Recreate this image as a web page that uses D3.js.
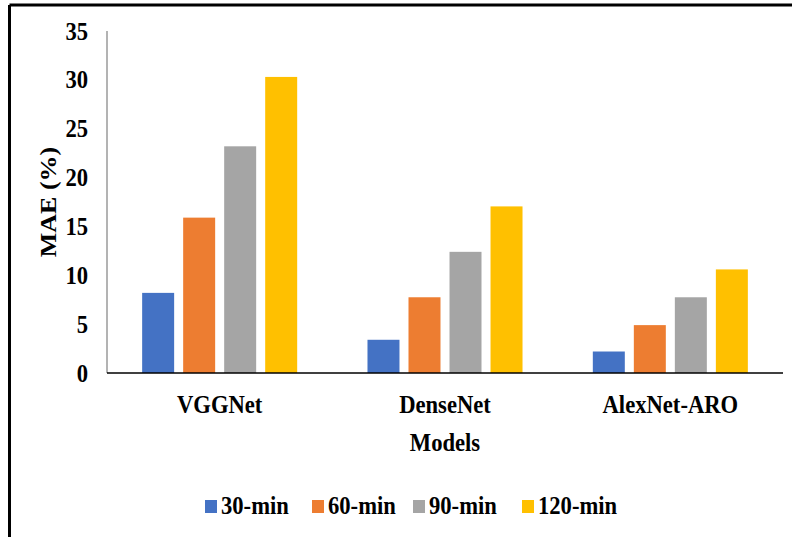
<!DOCTYPE html>
<html>
<head>
<meta charset="utf-8">
<script src="https://cdn.jsdelivr.net/npm/d3@7"></script>
<style>
  html, body { margin: 0; padding: 0; background: #fff; }
</style>
</head>
<body>
<svg id="chart" width="792" height="537"></svg>
<script>
const models = ["VGGNet", "DenseNet", "AlexNet-ARO"];
const seriesNames = ["30-min", "60-min", "90-min", "120-min"];
const mae30 = [8.2, 3.4, 2.2];
const mae60 = [15.9, 7.75, 4.9];
const mae90 = [23.2, 12.4, 7.75];
const mae120 = [30.3, 17.05, 10.6];
const yTicks = [0, 5, 10, 15, 20, 25, 30, 35];
const colors = ["#4472C4", "#ED7D31", "#A5A5A5", "#FFC000"];

const seriesValues = [mae30, mae60, mae90, mae120];
const data = models.map((m, i) => ({ model: m, values: seriesNames.map((s, j) => ({ key: s, value: seriesValues[j][i] })) }));

const svg = d3.select("#chart");
const SX = 0.87, FS = 26, FF = "Liberation Serif";

function styleText(sel) {
  return sel.attr("font-family", FF).attr("font-weight", "bold").attr("font-size", FS).attr("fill", "#000");
}

// frame (top and left border only)
svg.append("line").attr("x1", 9.5).attr("x2", 792).attr("y1", 5).attr("y2", 5).attr("stroke", "#000").attr("stroke-width", 3);
svg.append("line").attr("x1", 9.5).attr("x2", 9.5).attr("y1", 5).attr("y2", 537).attr("stroke", "#000").attr("stroke-width", 3);

const pLeft = 107, pRight = 783, pTop = 31, pBottom = 373;
const x0 = d3.scaleBand().domain(models).range([pLeft, pRight]).paddingInner(0.312).paddingOuter(0.156);
const x1 = d3.scaleBand().domain(seriesNames).range([0, x0.bandwidth()]).paddingInner(0.22).paddingOuter(0);
const y = d3.scaleLinear().domain([0, 35]).range([pBottom, pTop]);

// bars
svg.append("g").selectAll("g").data(data).join("g")
  .attr("transform", d => `translate(${x0(d.model)},0)`)
  .selectAll("rect").data(d => d.values).join("rect")
  .attr("x", d => x1(d.key))
  .attr("width", x1.bandwidth())
  .attr("y", d => y(d.value))
  .attr("height", d => y(0) - y(d.value))
  .attr("fill", (d, i) => colors[i]);

// y axis line
svg.append("line").attr("x1", pLeft).attr("x2", pLeft).attr("y1", pTop).attr("y2", pBottom)
  .attr("stroke", "#808080").attr("stroke-width", 1.2);
// x axis line
svg.append("line").attr("x1", pLeft).attr("x2", pRight).attr("y1", pBottom).attr("y2", pBottom)
  .attr("stroke", "#000").attr("stroke-width", 1.5);

// y tick labels
styleText(svg.append("g").selectAll("text").data(yTicks).join("text"))
  .attr("transform", d => `translate(88,${y(d)}) scale(${SX},1)`)
  .attr("text-anchor", "end").attr("dy", "0.33em")
  .text(d => d);

// category labels
styleText(svg.append("g").selectAll("text").data(models).join("text"))
  .attr("transform", d => `translate(${x0(d) + x0.bandwidth() / 2},413) scale(${SX},1)`)
  .attr("text-anchor", "middle")
  .text(d => d);

// axis titles
styleText(svg.append("text"))
  .attr("transform", `translate(445,451) scale(${SX},1)`)
  .attr("text-anchor", "middle").text("Models");
styleText(svg.append("text"))
  .attr("transform", `translate(56,${(pTop + pBottom) / 2}) scale(${SX},1) rotate(-90)`)
  .attr("text-anchor", "middle").text("MAE (%)");

// legend
const legendX = [205, 312, 413, 522];
const lg = svg.append("g").selectAll("g").data(seriesNames).join("g")
  .attr("transform", (d, i) => `translate(${legendX[i]},0)`);
lg.append("rect").attr("x", 0).attr("y", 500).attr("width", 12).attr("height", 13)
  .attr("fill", (d, i) => colors[i]);
styleText(lg.append("text"))
  .attr("transform", `translate(16,514) scale(${SX},1)`)
  .text(d => d);
</script>
</body>
</html>
